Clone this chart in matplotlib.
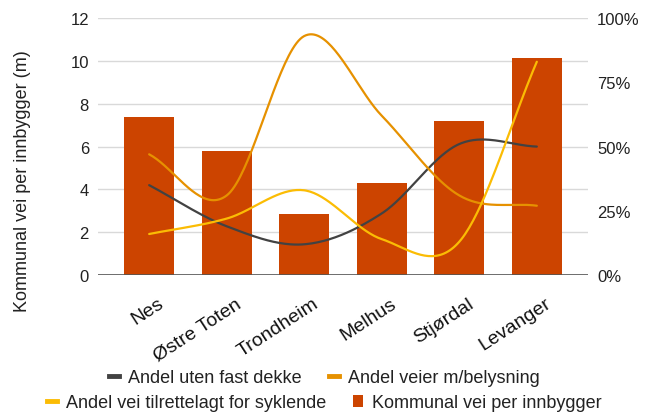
import matplotlib
matplotlib.use('Agg')
from matplotlib import pyplot as plt
from matplotlib.lines import Line2D
from matplotlib.patches import Patch
from matplotlib.ticker import FuncFormatter
import matplotlib.transforms as mtransforms
import numpy as np

plt.rcParams['font.family'] = ['Liberation Sans', 'DejaVu Sans']

kommuner = ['Nes', 'Østre Toten', 'Trondheim', 'Melhus', 'Stjørdal', 'Levanger']
vei_per_innbygger = [7.4, 5.8, 2.85, 4.3, 7.2, 10.15]   # meter
uten_fast_dekke = [35, 19, 12, 24, 51, 50]               # prosent
med_belysning = [47, 31, 93, 62, 31, 27]                 # prosent
for_syklende = [16, 22, 33, 14, 13, 83]                  # prosent

BAR = '#cc4400'
MORK = '#424242'
ORANSJE = '#e69100'
GUL = '#fbbc04'
TEKST = '#222222'


def glatt(y, n=40):
    # catmull-rom kurve gjennom punktene
    y = np.asarray(y, dtype=float)
    p = np.concatenate([[2 * y[0] - y[1]], y, [2 * y[-1] - y[-2]]])
    xs, ys = [], []
    for i in range(len(y) - 1):
        p0, p1, p2, p3 = p[i], p[i + 1], p[i + 2], p[i + 3]
        t = np.linspace(0, 1, n, endpoint=(i == len(y) - 2))
        v = 0.5 * (2 * p1 + (-p0 + p2) * t + (2 * p0 - 5 * p1 + 4 * p2 - p3) * t ** 2
                   + (-p0 + 3 * p1 - 3 * p2 + p3) * t ** 3)
        xs.append(i + t)
        ys.append(v)
    return np.concatenate(xs), np.concatenate(ys)


fig = plt.figure(figsize=(6.49, 4.14), dpi=100)
ax = fig.add_axes([0.151, 0.333, 0.755, 0.621])
ax2 = ax.twinx()

x = np.arange(len(kommuner))
ax.bar(x, vei_per_innbygger, width=0.645, color=BAR, zorder=2)

for verdier, farge in [(uten_fast_dekke, MORK), (med_belysning, ORANSJE), (for_syklende, GUL)]:
    xs, ys = glatt(verdier)
    ax2.plot(xs, ys, color=farge, lw=1.6, solid_capstyle='round')

ax.set_ylim(0, 12)
ax.set_yticks(range(0, 13, 2))
ax2.set_ylim(0, 100)
ax2.set_yticks([0, 25, 50, 75, 100])
ax2.yaxis.set_major_formatter(FuncFormatter(lambda v, _: f'{v:.0f}%'))
ax.set_xlim(-0.66, 5.66)

ax.grid(axis='y', color='#d9d9d9', lw=1, zorder=0)
ax.set_axisbelow(True)
ax.axhline(0, color='#555555', lw=1.2, zorder=3)

for a in (ax, ax2):
    for s in a.spines.values():
        s.set_visible(False)
    a.tick_params(length=0, labelsize=12, colors=TEKST)
ax.tick_params(axis='y', pad=6.5)
ax2.tick_params(axis='y', pad=6.5)

ax.set_xticks(x)
ax.set_xticklabels(kommuner, rotation=33, ha='right', rotation_mode='anchor',
                   fontsize=14, color='#111111')
ax.tick_params(axis='x', pad=14)
forskyv = mtransforms.ScaledTranslation(8 / 100, 0, fig.dpi_scale_trans)
for lbl in ax.get_xticklabels():
    lbl.set_transform(lbl.get_transform() + forskyv)

fig.text(23 / 649, 1 - 181 / 414, 'Kommunal vei per innbygger (m)', rotation=90,
         ha='center', va='center', fontsize=13, color=TEKST)

rad1 = [Line2D([], [], color=MORK, lw=3.5), Line2D([], [], color=ORANSJE, lw=3.5)]
rad2 = [Line2D([], [], color=GUL, lw=3.5), Patch(facecolor=BAR)]
leg_kw = dict(ncol=2, frameon=False, fontsize=13, handlelength=0.55, handleheight=0.6,
              handletextpad=0.5, columnspacing=1.5, labelcolor=TEKST)
fig.legend(rad1, ['Andel uten fast dekke', 'Andel veier m/belysning'],
           loc='center', bbox_to_anchor=(0.5, 1 - 379 / 414), **leg_kw)
fig.legend(rad2, ['Andel vei tilrettelagt for syklende', 'Kommunal vei per innbygger'],
           loc='center', bbox_to_anchor=(0.5, 1 - 404 / 414), **leg_kw)

fig.savefig('out.png', dpi=100)
